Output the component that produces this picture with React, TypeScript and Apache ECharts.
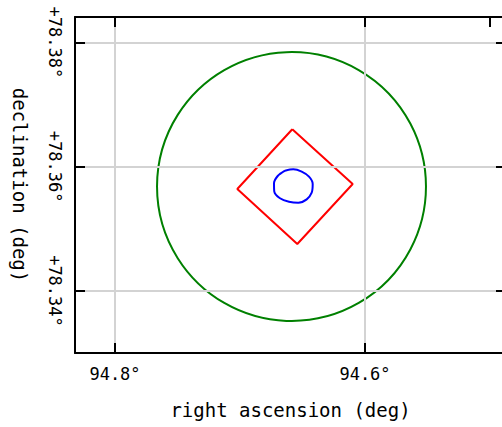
import React, { useEffect, useRef } from "react";
import * as echarts from "echarts";

// Axis extents (degrees)
const raMin = 94.4872;
const raMax = 94.832;
const decMin = 78.33002;
const decMax = 78.38409;

// Tick / grid values
const raTicks = [94.8, 94.6];
const raTopTicks = [94.8, 94.6, 94.5];
const decTicks = [78.34, 78.36, 78.38];

// Green circle region: [ra, dec, radius(deg dec)]
const circleRegion = [[94.6588, 78.35681, 0.02164]];

// Red box region vertices
const boxRA = [94.65816, 94.60984, 94.65416, 94.70216, 94.65816];
const boxDec = [78.36602, 78.35722, 78.34756, 78.35641, 78.36602];

// Blue polygon region vertices
const blobRA = [94.664, 94.65736, 94.65064, 94.6448, 94.64184, 94.64264, 94.64664, 94.65336, 94.6608, 94.668, 94.67256, 94.6728, 94.66984, 94.664];
const blobDec = [78.35936, 78.35958, 78.3592, 78.35839, 78.35722, 78.35582, 78.35475, 78.35421, 78.35437, 78.35492, 78.35598, 78.35733, 78.3585, 78.35936];

const FONT = "DejaVu Sans Mono";

export default function App() {
  const ref = useRef<HTMLDivElement>(null);
  useEffect(() => {
    if (!ref.current) return;
    const chart = echarts.init(ref.current, null, { renderer: "svg" });
    const frameLine = { show: true, onZero: false, lineStyle: { color: "#000", width: 2 } };
    const tick = (vals: number[]) => ({ show: true, inside: true, length: 10, customValues: vals, lineStyle: { color: "#000", width: 2 } });
    const option: any = {
      animation: false,
      grid: { left: 75, top: 17, width: 431, height: 336, containLabel: false, outerBoundsMode: "none" },
      xAxis: [
        {
          type: "value", inverse: true, min: raMin, max: raMax, position: "bottom", z: 10,
          axisLine: frameLine, axisTick: tick(raTicks), splitLine: { show: false },
          axisLabel: { customValues: raTicks, formatter: (v: number) => v.toFixed(1) + "°", fontFamily: FONT, fontSize: 17, color: "#000", margin: 12 },
          name: "right ascension (deg)", nameLocation: "middle", nameGap: 47,
          nameTextStyle: { fontFamily: FONT, fontSize: 19, color: "#000" },
        },
        {
          type: "value", inverse: true, min: raMin, max: raMax, position: "top", z: 10,
          axisLine: frameLine, axisTick: tick(raTopTicks), splitLine: { show: false },
          axisLabel: { show: true, customValues: raTopTicks, formatter: () => "", fontSize: 1 },
        },
      ],
      yAxis: [
        {
          type: "value", min: decMin, max: decMax, position: "left", z: 10,
          axisLine: frameLine, axisTick: tick(decTicks), splitLine: { show: false },
          axisLabel: { customValues: decTicks, rotate: -90, formatter: (v: number) => "+" + v.toFixed(2) + "°", fontFamily: FONT, fontSize: 17, color: "#000", margin: 12 },
          name: "declination (deg)", nameLocation: "middle", nameGap: 46, nameRotate: -90,
          nameTextStyle: { fontFamily: FONT, fontSize: 19, color: "#000" },
        },
        {
          type: "value", min: decMin, max: decMax, position: "right", z: 10,
          axisLine: frameLine, axisTick: tick(decTicks), splitLine: { show: false },
          axisLabel: { show: true, customValues: decTicks, formatter: () => "", fontSize: 1 },
        },
      ],
      series: [
        {
          type: "line", data: [], silent: true, z: 1,
          markLine: {
            silent: true, symbol: ["none", "none"], label: { show: false },
            lineStyle: { color: "#d3d3d3", width: 2, type: "solid" },
            emphasis: { disabled: true },
            data: [...raTicks.map((v) => ({ xAxis: v })), ...decTicks.map((v) => ({ yAxis: v }))],
          },
        },
        {
          type: "custom", silent: true, z: 3,
          data: circleRegion,
          renderItem: (params: any, api: any) => {
            const c = api.coord([api.value(0), api.value(1)]);
            const r = api.size([0, api.value(2)])[1];
            return { type: "circle", shape: { cx: c[0], cy: c[1], r }, style: { fill: "none", stroke: "#008000", lineWidth: 2 } };
          },
        },
        {
          type: "line", silent: true, z: 4, symbol: "none",
          data: boxRA.map((r, i) => [r, boxDec[i]]),
          lineStyle: { color: "#ff0000", width: 2 },
        },
        {
          type: "line", silent: true, z: 5, symbol: "none", smooth: 0.3,
          data: blobRA.map((r, i) => [r, blobDec[i]]),
          lineStyle: { color: "#0000ff", width: 2 },
        },
      ],
    };
    chart.setOption(option);
    return () => chart.dispose();
  }, []);
  return <div ref={ref} style={{ position: "absolute", left: 0, top: 0, width: 502, height: 427 }} />;
}
